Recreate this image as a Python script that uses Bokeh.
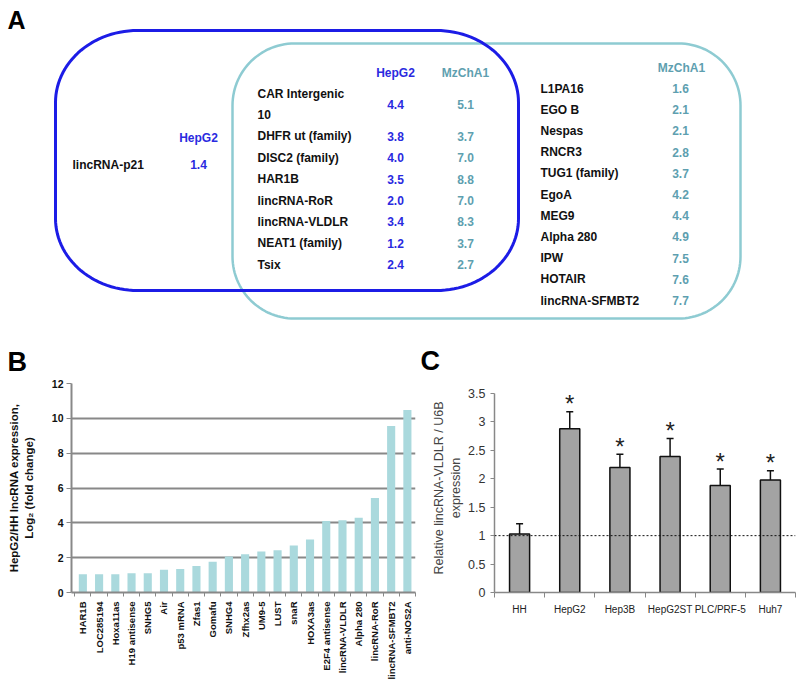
import numpy as np
from bokeh.plotting import figure
from bokeh.layouts import column, row
from bokeh.models import Range1d, FixedTicker, Whisker, TeeHead, Span, ColumnDataSource
from bokeh.embed import file_html
from bokeh.resources import INLINE
from bokeh.core.properties import value

# ---------------- Panel A data (Venn tables) ----------------
a_left_names = ["lincRNA-p21"]
a_left_hepg2 = [1.4]
a_mid_names = ["CAR Intergenic\n10", "DHFR  ut (family)", "DISC2 (family)", "HAR1B",
               "lincRNA-RoR", "lincRNA-VLDLR", "NEAT1 (family)", "Tsix"]
a_mid_hepg2 = [4.4, 3.8, 4.0, 3.5, 2.0, 3.4, 1.2, 2.4]
a_mid_mzcha1 = [5.1, 3.7, 7.0, 8.8, 7.0, 8.3, 3.7, 2.7]
a_right_names = ["L1PA16", "EGO  B", "Nespas", "RNCR3", "TUG1 (family)", "EgoA", "MEG9",
                 "Alpha 280", "IPW", "HOTAIR", "lincRNA-SFMBT2"]
a_right_mzcha1 = [1.6, 2.1, 2.1, 2.8, 3.7, 4.2, 4.4, 4.9, 7.5, 7.6, 7.7]

# ---------------- Panel B data ----------------
b_names = ["HAR1B", "LOC285194", "Hoxa11as", "H19 antisense", "SNHG5", "Air", "p53 mRNA",
           "Zfas1", "Gomafu", "SNHG4", "Zfhx2as", "UM9-5", "LUST", "snaR", "HOXA3as",
           "E2F4 antisense", "lincRNA-VLDLR", "Alpha 280", "lincRNA-RoR", "lincRNA-SFMBT2",
           "anti-NOS2A"]
b_values = [1.05, 1.05, 1.05, 1.1, 1.1, 1.3, 1.35, 1.52, 1.77, 2.06, 2.19, 2.36, 2.42,
            2.7, 3.05, 4.1, 4.15, 4.29, 5.43, 9.56, 10.48]
b_yticks = [0, 2, 4, 6, 8, 10, 12]

# ---------------- Panel C data ----------------
c_names = ["HH", "HepG2", "Hep3B", "HepG2ST", "PLC/PRF-5", "Huh7"]
c_means = [1.03, 2.88, 2.20, 2.39, 1.88, 1.98]
c_errs = [0.18, 0.30, 0.23, 0.32, 0.29, 0.16]
c_sig = ["", "*", "*", "*", "*", "*"]
c_yticks = [0, 0.5, 1, 1.5, 2, 2.5, 3, 3.5]
c_ytick_labels = ["0", "0.5", "1", "1.5", "2", "2.5", "3", "3.5"]

FONTNAME = "Liberation Sans"
FONT = value(FONTNAME)
BLUE = "#1c1ce6"
BLUE_T = "#2a2ae0"
CYAN = "#8ecbd2"
TEAL_T = "#5e9fb0"

HA = 377
# ================= Panel A =================
pa = figure(width=800, height=HA, x_range=Range1d(0, 800), y_range=Range1d(HA, 0),
            x_axis_type=None, y_axis_type=None, output_backend="svg",
            toolbar_location=None, min_border=0)
pa.grid.visible = False
pa.outline_line_color = None


def rrect(x0, y0, x1, y1, rx, ry, n=30):
    xs, ys = [], []
    corners = [((x0 + rx, y0 + ry), np.pi, 1.5 * np.pi),
               ((x1 - rx, y0 + ry), 1.5 * np.pi, 2 * np.pi),
               ((x1 - rx, y1 - ry), 0, 0.5 * np.pi),
               ((x0 + rx, y1 - ry), 0.5 * np.pi, np.pi)]
    for (cx, cy), a0, a1 in corners:
        t = np.linspace(a0, a1, n)
        xs.extend(cx + rx * np.cos(t))
        ys.extend(cy + ry * np.sin(t))
    xs.append(xs[0]); ys.append(ys[0])
    return xs, ys


cx, cy = rrect(232, 43, 740, 318, 62, 62)
pa.line(cx, cy, line_color=CYAN, line_width=2.5)
bx, by = rrect(55, 30, 518, 290, 82, 72)
pa.line(bx, by, line_color=BLUE, line_width=3)

common = dict(text_font=FONT, text_font_style="bold", text_font_size="12px",
              text_baseline="middle")

# panel letters
pa.text(x=[7], y=[19], text=["A"], text_font=FONT, text_font_style="bold",
        text_font_size="25px", text_baseline="middle", text_color="black")
pa.text(x=[7], y=[361.5], text=["B"], text_font=FONT, text_font_style="bold",
        text_font_size="27px", text_baseline="middle", text_color="black")
pa.text(x=[420], y=[360.5], text=["C"], text_font=FONT, text_font_style="bold",
        text_font_size="27px", text_baseline="middle", text_color="black")

# left group (HepG2 only)
pa.text(x=[198], y=[137], text=["HepG2"], text_align="center", text_color=BLUE_T, **common)
ly = [164 + 21 * i for i in range(len(a_left_names))]
pa.text(x=[72] * len(ly), y=ly, text=a_left_names, text_align="left", text_color="#111111", **common)
pa.text(x=[198] * len(ly), y=ly, text=[f"{v:.1f}" for v in a_left_hepg2], text_align="center",
        text_color=BLUE_T, **common)

# middle group (both)
pa.text(x=[395], y=[72], text=["HepG2"], text_align="center", text_color=BLUE_T, **common)
pa.text(x=[465], y=[72], text=["MzChA1"], text_align="center", text_color=TEAL_T, **common)
slot = 0
nm_y, nm_t, val_y = [], [], []
for name in a_mid_names:
    parts = name.split("\n")
    ys = [93 + 21.4 * (slot + k) for k in range(len(parts))]
    for part, yy in zip(parts, ys):
        nm_y.append(yy); nm_t.append(part)
    val_y.append(sum(ys) / len(ys))
    slot += len(parts)
pa.text(x=[257] * len(nm_t), y=nm_y, text=nm_t, text_align="left", text_color="#111111", **common)
pa.text(x=[395] * len(val_y), y=val_y, text=[f"{v:.1f}" for v in a_mid_hepg2],
        text_align="center", text_color=BLUE_T, **common)
pa.text(x=[465] * len(val_y), y=val_y, text=[f"{v:.1f}" for v in a_mid_mzcha1],
        text_align="center", text_color=TEAL_T, **common)

# right group (MzChA1 only)
pa.text(x=[681], y=[67], text=["MzChA1"], text_align="center", text_color=TEAL_T, **common)
ry_ = [88 + 21.2 * i for i in range(len(a_right_names))]
pa.text(x=[540] * len(ry_), y=ry_, text=a_right_names, text_align="left", text_color="#111111", **common)
pa.text(x=[680] * len(ry_), y=ry_, text=[f"{v:.1f}" for v in a_right_mzcha1],
        text_align="center", text_color=TEAL_T, **common)

HB = 685 - HA
TOPB, BOTB = 6, 93
FRAME_H = HB - TOPB - BOTB
# ================= Panel B =================
nb = len(b_names)
pb = figure(width=418, height=HB, x_range=Range1d(-0.7, nb - 0.5), y_range=Range1d(0, 12),
            output_backend="svg", toolbar_location=None,
            min_border_left=71, min_border_right=3, min_border_top=TOPB, min_border_bottom=BOTB)
pb.outline_line_color = None
pb.xgrid.visible = False
pb.vbar(x=list(range(nb)), top=b_values, width=0.5, fill_color="#aad9dd", line_color=None)

xa = pb.xaxis[0]
xa.ticker = FixedTicker(ticks=list(range(nb)), minor_ticks=[i + 0.5 for i in range(-1, nb)])
xa.major_label_overrides = {i: n for i, n in enumerate(b_names)}
xa.major_label_orientation = np.pi / 2
xa.major_tick_line_color = None
xa.major_tick_out = 0
xa.major_tick_in = 0
xa.minor_tick_out = 4
xa.minor_tick_in = 0
xa.minor_tick_line_color = "#888888"
xa.axis_line_color = "#888888"
xa.axis_line_width = 2
xa.major_label_text_font = FONTNAME
xa.major_label_text_font_style = "bold"
xa.major_label_text_font_size = "9.5px"
xa.major_label_text_color = "#111111"
xa.major_label_standoff = 5

ya = pb.yaxis[0]
ya.ticker = FixedTicker(ticks=b_yticks, minor_ticks=[])
ya.major_tick_out = 5
ya.major_tick_in = 0
ya.major_tick_line_color = "#888888"
ya.axis_line_color = "#888888"
ya.axis_line_width = 2
ya.major_label_text_font = FONTNAME
ya.major_label_text_font_style = "bold"
ya.major_label_text_font_size = "10.5px"
ya.major_label_text_color = "#111111"
ya.major_label_standoff = 3
ya.axis_label = "HepG2/HH lncRNA expression,\nLog\u2082 (fold change)"
ya.axis_label_text_font = FONTNAME
ya.axis_label_text_font_style = "bold"
ya.axis_label_text_font_size = "11.5px"
ya.axis_label_text_color = "#111111"
ya.axis_label_standoff = 14
pb.ygrid.grid_line_color = "#888888"
pb.ygrid.grid_line_width = 2

# ================= Panel C =================
# frames of B and C share top/bottom in the row; 3.5 sits 10px below the frame top
C_TOP = 3.5 * FRAME_H / (FRAME_H - 10.0)
nc = len(c_names)
pc = figure(width=800 - 418, height=HB, x_range=Range1d(-0.5, nc - 0.5), y_range=Range1d(0, C_TOP),
            output_backend="svg", toolbar_location=None,
            min_border_left=76, min_border_right=5, min_border_top=TOPB, min_border_bottom=BOTB)
pc.outline_line_color = None
pc.grid.visible = False
csrc = ColumnDataSource(dict(x=list(range(nc)), mean=c_means,
                             upper=[m + e for m, e in zip(c_means, c_errs)], sig=c_sig))
pc.vbar(x="x", top="mean", width=0.4, source=csrc, fill_color="#a3a3a3",
        line_color="#111111", line_width=1.5)
pc.add_layout(Whisker(base="x", lower="mean", upper="upper", source=csrc, lower_head=None,
                      upper_head=TeeHead(size=7, line_width=1.5, line_color="#111111"),
                      line_width=1.5, line_color="#111111"))
pc.add_layout(Span(location=1, dimension="width", line_color="#111111", line_width=1,
                   line_dash="2 2"))
pc.text(x="x", y="upper", text="sig", source=csrc, text_align="center",
        text_baseline="middle", text_font=FONT, text_font_size="24px",
        text_color="#222222", y_offset=-8)

cxa = pc.xaxis[0]
cxa.ticker = FixedTicker(ticks=list(range(nc)), minor_ticks=[i + 0.5 for i in range(-1, nc)])
cxa.major_label_overrides = {i: n for i, n in enumerate(c_names)}
cxa.major_tick_line_color = None
cxa.major_tick_out = 0
cxa.major_tick_in = 0
cxa.minor_tick_out = 5
cxa.minor_tick_in = 0
cxa.minor_tick_line_color = "#888888"
cxa.axis_line_color = "#888888"
cxa.axis_line_width = 1.5
cxa.major_label_text_font = FONTNAME
cxa.major_label_text_font_size = "10px"
cxa.major_label_text_color = "#222222"
cxa.major_label_standoff = 6

cya = pc.yaxis[0]
cya.bounds = (0, 3.5)
cya.ticker = FixedTicker(ticks=c_yticks, minor_ticks=[])
cya.major_label_overrides = {t: l for t, l in zip(c_yticks, c_ytick_labels)}
cya.major_tick_out = 4
cya.major_tick_in = 0
cya.major_tick_line_color = "#888888"
cya.axis_line_color = "#888888"
cya.axis_line_width = 1.5
cya.major_label_text_font = FONTNAME
cya.major_label_text_font_size = "12.5px"
cya.major_label_text_color = "#333333"
cya.major_label_standoff = 5
cya.axis_label = "Relative lincRNA-VLDLR / U6B\nexpression"
cya.axis_label_text_font = FONTNAME
cya.axis_label_text_font_style = "normal"
cya.axis_label_text_font_size = "12.5px"
cya.axis_label_text_color = "#444444"
cya.axis_label_standoff = 2

layout = column(pa, row(pb, pc))
open("out.html", "w").write(file_html(layout, INLINE, "lincRNA"))
